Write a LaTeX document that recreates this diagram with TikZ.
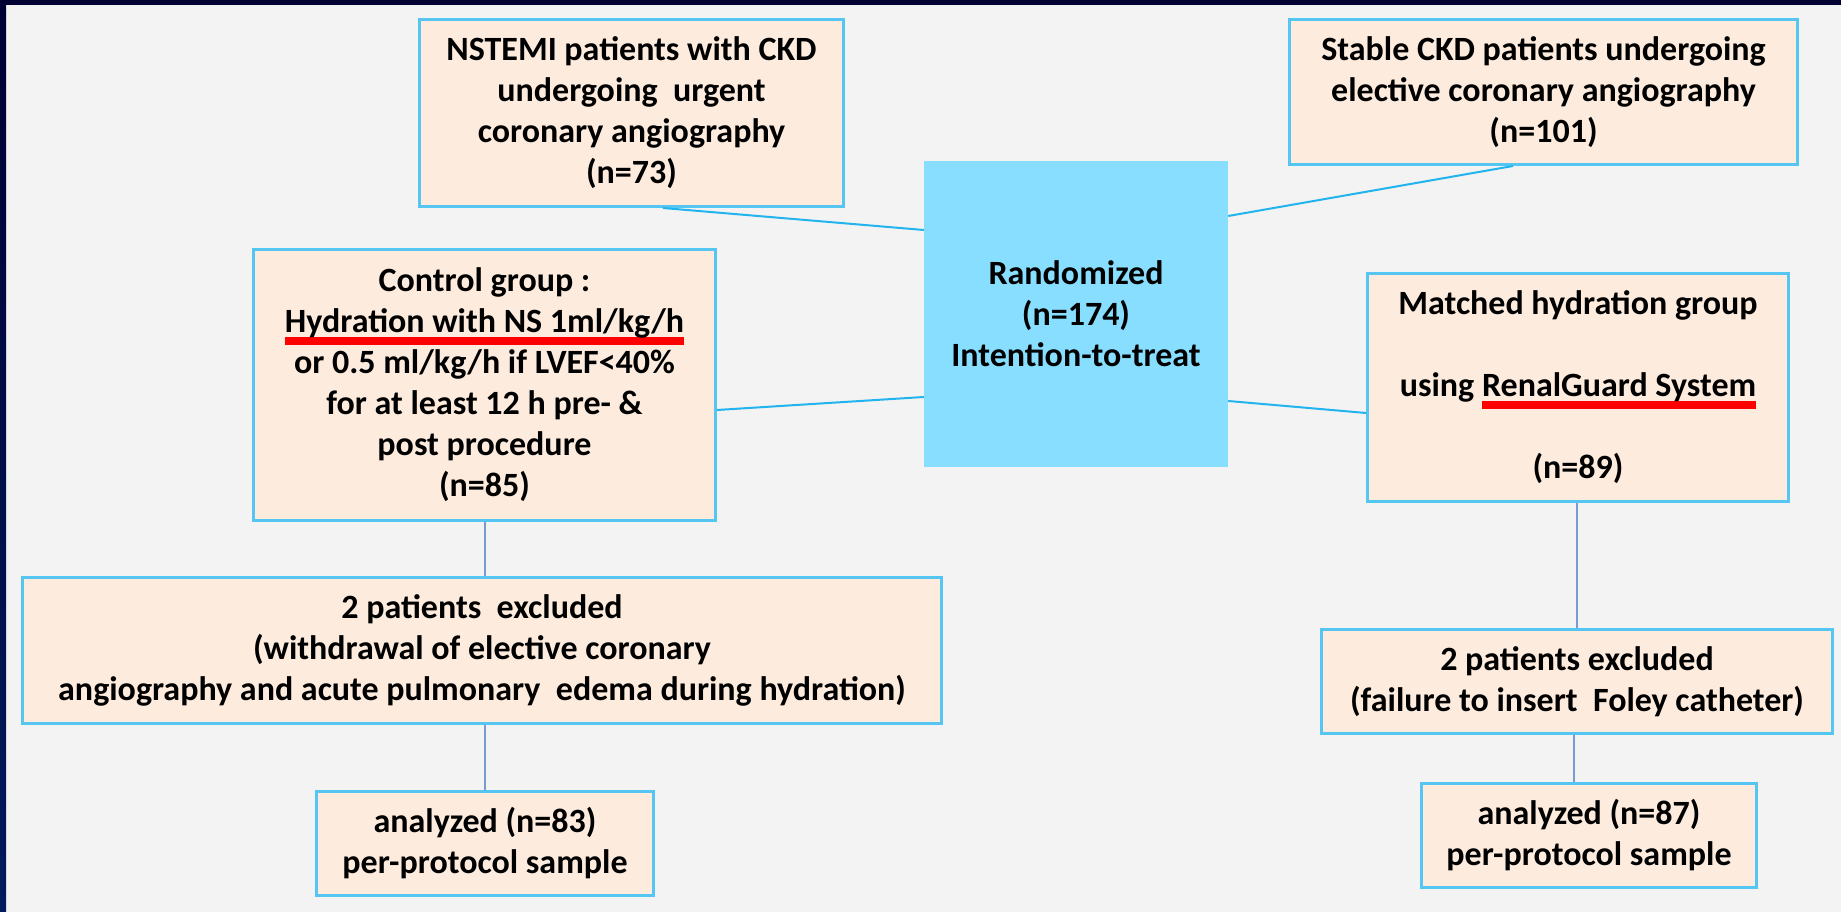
\documentclass[tikz,border=0pt]{standalone}
\usepackage{fontspec}
\setmainfont{Carlito}
\definecolor{bgc}{HTML}{F3F3F3}
\definecolor{navyA}{HTML}{000033}
\definecolor{navyB}{HTML}{001A5C}
\definecolor{peach}{HTML}{FDECDE}
\definecolor{boxline}{HTML}{55C6F2}
\definecolor{randfill}{HTML}{87DEFF}
\definecolor{linkblue}{HTML}{22B4EE}
\definecolor{linkgray}{HTML}{7A9BD2}
\definecolor{ulred}{HTML}{FF0000}
\newcommand\redul[1]{\setbox0\hbox{#1}\rlap{\textcolor{ulred}{\rule[-12pt]{\wd0}{7.5pt}}}\box0}
\begin{document}
\begin{tikzpicture}[x=1pt,y=1pt,
  box/.style={draw=boxline, line width=3pt, fill=peach, align=center, inner sep=0pt,
    font=\bfseries\fontsize{34}{41}\selectfont, text=black},
  randbox/.style={fill=randfill, align=center, inner sep=0pt,
    font=\bfseries\fontsize{34}{41}\selectfont, text=black},
  link/.style={draw=linkblue, line width=2pt},
  vlink/.style={draw=linkgray, line width=2pt}]
\useasboundingbox (0,0) rectangle (1841,912);
\fill[bgc] (0,0) rectangle (1841,912);
\fill[navyA] (0,907) rectangle (1841,912);
\shade[top color=navyA, bottom color=navyB] (0,0) rectangle (6,912);

\node[box, minimum width=424, minimum height=187] (nstemi) at (631.5,799)
  {NSTEMI patients with CKD\\ undergoing\ \ urgent\\ coronary angiography\\ (n=73)};
\node[box, minimum width=508, minimum height=145] (stable) at (1543.5,820)
  {Stable CKD patients undergoing\\ elective coronary angiography\\ (n=101)};
\node[randbox, minimum width=304, minimum height=306] (rand) at (1076,598)
  {Randomized\\ (n=174)\\ Intention-to-treat};
\node[box, minimum width=462, minimum height=271] (control) at (484.5,527)
  {Control group :\\ \redul{Hydration with NS 1ml/kg/h}\\ or 0.5 ml/kg/h if LVEF<40\%\\ for at least 12 h pre- \&\\ post procedure\\ (n=85)};
\node[box, minimum width=421, minimum height=228] (matched) at (1578,524.5)
  {Matched hydration group\\[41pt] using \redul{RenalGuard System}\\[41pt] (n=89)};
\node[box, minimum width=919, minimum height=146] (exclL) at (482,261.5)
  {2 patients\ \ excluded\\ (withdrawal of elective coronary\\ angiography and acute pulmonary\ \ edema during hydration)};
\node[box, minimum width=337, minimum height=104] (analL) at (485,68.5)
  {analyzed (n=83)\\ per-protocol sample};
\node[box, minimum width=511, minimum height=104] (exclR) at (1577,230.5)
  {2 patients excluded\\ (failure to insert\ \ Foley catheter)};
\node[box, minimum width=335, minimum height=104] (analR) at (1589,76.5)
  {analyzed (n=87)\\ per-protocol sample};

\draw[link] ([xshift=31.5pt]nstemi.south) -- ([yshift=84pt]rand.west);
\draw[link] ([xshift=-30.5pt]stable.south) -- ([yshift=98pt]rand.east);
\draw[link] ([yshift=-25pt]control.east) -- ([yshift=-83pt]rand.west);
\draw[link] ([yshift=-87pt]rand.east) -- ([yshift=-25.5pt]matched.west);
\draw[vlink] (control.south) -- (control.south |- exclL.north);
\draw[vlink] (exclL.south -| analL.north) -- (analL.north);
\draw[vlink] (matched.south -| exclR.north) -- (exclR.north);
\draw[vlink] ([xshift=-3pt]exclR.south) -- ([xshift=-3pt]exclR.south |- analR.north);
\end{tikzpicture}
\end{document}
